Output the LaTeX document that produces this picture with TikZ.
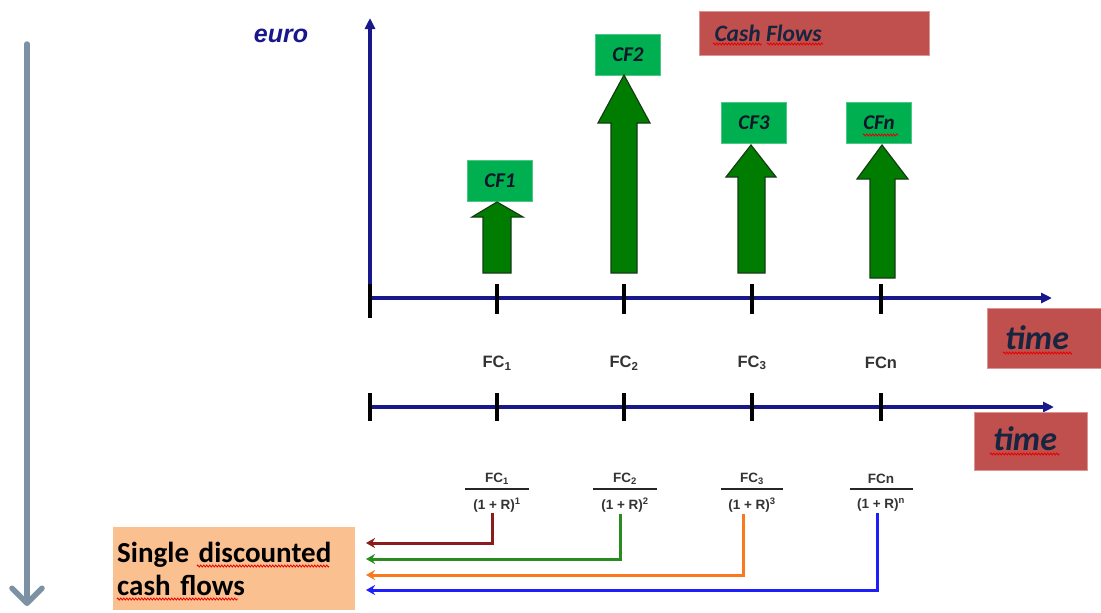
\documentclass[tikz,border=0pt]{standalone}
\usepackage{fontspec}
\setmainfont{Liberation Sans}
\newfontfamily\calibri{Carlito}
\usetikzlibrary{arrows.meta,decorations.pathmorphing}

\definecolor{axisblue}{RGB}{24,24,140}
\definecolor{flowgrey}{RGB}{125,145,165}
\definecolor{arrowgreen}{RGB}{0,125,0}
\definecolor{arrowedge}{RGB}{20,60,20}
\definecolor{labelgreen}{RGB}{0,176,80}
\definecolor{boxred}{RGB}{192,80,77}
\definecolor{boxtext}{RGB}{23,37,64}
\definecolor{peach}{RGB}{250,192,144}
\definecolor{linkred}{RGB}{140,28,28}
\definecolor{linkgreen}{RGB}{40,140,30}
\definecolor{linkorange}{RGB}{250,120,30}
\definecolor{linkblue}{RGB}{30,30,250}

\begin{document}
\begin{tikzpicture}[x=1pt,y=-1pt,
  axis/.style={draw=axisblue,line width=3.4pt,-{Triangle[length=11pt,width=10pt]}},
  tickmark/.style={black,line width=3.8pt},
  cfshape/.style={fill=arrowgreen,draw=arrowedge,line width=1.2pt,line join=miter},
  cflabel/.style={fill=labelgreen,draw=labelgreen!70!white,line width=0.6pt,
    minimum width=65pt,minimum height=41pt,inner sep=0pt,text=boxtext!60!black,
    font=\calibri\bfseries\itshape\fontsize{21}{21}\selectfont},
  redbox/.style={fill=boxred,draw=boxred!60!white,line width=0.8pt,inner sep=0pt},
  redtext/.style={text=boxtext,font=\calibri\bfseries\itshape\fontsize{#1}{#1}\selectfont},
  fclabel/.style={text=black!80,font=\bfseries\fontsize{16.5}{16.5}\selectfont},
  fracpart/.style={text=black!80,inner sep=1pt,font=\bfseries\fontsize{13.5}{13.5}\selectfont},
  fracbar/.style={black!85,line width=2.8pt},
  link/.style={draw=#1,line width=3pt,-{Stealth[length=9pt,width=10pt]}},
  squiggle/.style={draw=red!90!black,line width=0.8pt,
    decorate,decoration={zigzag,segment length=3pt,amplitude=1pt}}
]
\useasboundingbox (0,0) rectangle (1101,613);
\fill[white] (0,0) rectangle (1101,613);

% reading direction on the left
\draw[flowgrey,line width=5.5pt,line cap=round,
  -{Straight Barb[length=15pt,width=30pt,line cap=round,line join=round]}]
  (27,44) -- (27,606);

% upper time line with the cash-flow axis
\coordinate (O) at (370,298);
\draw[axis] (370,298) -- (370,18);
\draw[axis] (368,298) -- (1052,298);
\node[text=axisblue,font=\bfseries\itshape\fontsize{25}{25}\selectfont] (euro) at (281,36) {euro};
\foreach \x in {370,497,624,752,881}
  \draw[tickmark] (\x,284) -- (\x,314);
\draw[tickmark] (370,314) -- (370,318);

% lower time line
\draw[axis] (368,407) -- (1054,407);
\foreach \x in {370,497,624,752,881}
  \draw[tickmark] (\x,393) -- (\x,421);

% red caption boxes
\node[redbox,minimum width=230pt,minimum height=44pt] (cfbox) at (814,33) {};
\node[redtext=23.5,anchor=west] (cftitle) at (711,33) {Cash Flows};
\node[redbox,minimum width=114pt,minimum height=60pt] (time1) at (1044,338) {};
\node[redtext=34] at (1037,338) {time};
\node[redbox,minimum width=113pt,minimum height=58pt] (time2) at (1031,441) {};
\node[redtext=34] at (1025,439) {time};

% cash-flow arrows
\node[cflabel] (cf1) at (500,181) {CF1};
\node[cflabel] (cf2) at (628,55) {CF2};
\node[cflabel] (cf3) at (754,123) {CF3};
\node[cflabel] (cfn) at (879,123) {CFn};
\draw[cfshape] (483,273) -- (483,217) -- (472,217) -- (497,202) -- (523,217)
  -- (511,217) -- (511,273) -- cycle;
\draw[cfshape] (611,273) -- (611,123) -- (598,123) -- (624,75) -- (650,123)
  -- (637,123) -- (637,273) -- cycle;
\draw[cfshape] (738,273) -- (738,177) -- (726,177) -- (751,145) -- (776,177)
  -- (765,177) -- (765,273) -- cycle;
\draw[cfshape] (870,278) -- (870,179) -- (857,179) -- (882,145) -- (908,179)
  -- (895,179) -- (895,278) -- cycle;

% cash flows on the lower line
\node[fclabel] (fc1) at (497,363) {FC\textsubscript{1}};
\node[fclabel] (fc2) at (624,363) {FC\textsubscript{2}};
\node[fclabel] (fc3) at (752,363) {FC\textsubscript{3}};
\node[fclabel] (fcn) at (881,363) {FCn};

% discounted values
\node[fracpart] (n1) at (497,479) {FC\textsubscript{1}};
\node[fracpart] (d1) at (497,505) {(1 + R)\textsuperscript{1}};
\draw[fracbar] (465,489) -- (529,489);
\node[fracpart] (n2) at (625,479) {FC\textsubscript{2}};
\node[fracpart] (d2) at (625,505) {(1 + R)\textsuperscript{2}};
\draw[fracbar] (593,489) -- (657,489);
\node[fracpart] (n3) at (752,479) {FC\textsubscript{3}};
\node[fracpart] (d3) at (752,505) {(1 + R)\textsuperscript{3}};
\draw[fracbar] (721,489) -- (783,489);
\node[fracpart] (nn) at (881,479) {FCn};
\node[fracpart] (dn) at (881,505) {(1 + R)\textsuperscript{n}};
\draw[fracbar] (850,489) -- (913,489);

% result box and the links into it
\node[fill=peach,anchor=north west,minimum width=242pt,minimum height=83pt,
  inner xsep=4pt,inner ysep=0pt,text width=234pt,align=left,
  font=\calibri\bfseries\fontsize{29}{33}\selectfont] (sdcf) at (113,527)
  {Single discounted\\cash flows};
\coordinate (e1) at (366,543);
\coordinate (e2) at (366,559);
\coordinate (e3) at (366,575);
\coordinate (e4) at (366,590);
\draw[link=linkred] ([xshift=-5pt]d1.south) |- (e1);
\draw[link=linkgreen] ([xshift=-5pt]d2.south) |- (e2);
\draw[link=linkorange] ([xshift=-9pt]d3.south) |- (e3);
\draw[link=linkblue] ([xshift=-4pt]dn.south) |- (e4);

% spelling marks under words
\draw[squiggle] (713,44) -- (762,44);
\draw[squiggle] (767,44) -- (823,44);
\draw[squiggle] (1003,353) -- (1072,353);
\draw[squiggle] (990,454) -- (1060,454);
\draw[squiggle] (863,135) -- (898,135);
\draw[squiggle] (197,566) -- (329,566);
\draw[squiggle] (117,599) -- (238,599);
\end{tikzpicture}
\end{document}
